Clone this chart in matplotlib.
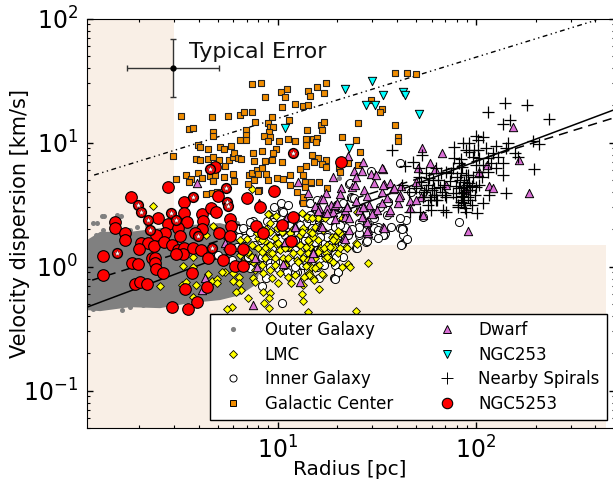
import numpy as np
import matplotlib
matplotlib.use("Agg")
import matplotlib.pyplot as plt
from matplotlib.lines import Line2D

# all points as (log10 radius, log10 dispersion)
outer_upper=[(.04,.214),(.106,.28),(.257,.28),(.408,.31),(.559,.335),(.71,.351),(.811,.31),(.887,.173),(.922,.012)]
outer_lower=[(.887,-.149),(.811,-.23),(.71,-.27),(.559,-.294),(.408,-.335),(.257,-.327),(.106,-.359),(.04,-.351)]
outer_pts=[(.091,.35),(.116,.41),(.192,.415),(.212,.407),(.121,.294),(.166,.27),(.257,.294),(.292,.318),(.343,.335),(.307,.27),
(.071,.351),(.126,.407),(.086,.254),(.071,-.342),(.106,-.31),(.156,-.318),(.217,-.35),(.257,-.327),(.322,-.31),(.393,-.27),
(.444,-.246),(.509,-.23),(.61,-.214),(.695,-.133),(.761,-.109),(.826,-.068),(.862,-.012),(.746,-.165),(.796,.35),(.811,.294),
(.862,.198),(1.31,.713)]

lmc_pts=[(.958,.423),(.993,.407),(1.048,.391),(1.124,.431),(1.149,.399),(1.21,.391),(.963,.351),(.998,.31),(.902,.23),(.937,.206),
(.847,.222),(.872,.173),(.902,.149),(.937,.149),(.988,.23),(1.013,.133),(1.053,.214),(1.114,.254),(1.164,.278),(1.205,.214),
(1.114,.173),(1.164,.157),(1.25,.173),(1.28,.157),(1.305,.109),(1.28,.036),(1.351,.149),(1.215,.149),(1.079,.109),(1.129,.069),
(.988,.069),(.937,.069),(.877,.036),(.922,.012),(.963,-.028),(1.013,-.052),(1.053,-.085),(1.089,-.069),(1.149,-.069),(.877,-.093),
(.973,-.093),(1.003,-.133),(1.068,-.133),(1.129,-.149),(1.159,-.052),(1.179,-.093),(.887,-.125),(1.21,-.181),(1.326,-.004),(1.356,.012),
(.736,-.044),(.776,-.052),(.806,-.085),(.776,-.117),(.806,-.133),(.816,-.189),(.791,-.206),(.852,-.254),(.927,-.206),(.963,-.214),
(.958,-.254),(.932,-.294),(.958,-.335),(.771,-.326),(.746,-.343),(1.124,-.222),(1.129,-.278),(1.154,-.367),(1.028,.069),(.811,.093),
(.811,.214),(.746,.141),(1.457,.028),(1.356,.02),(1.366,-.004),(1.396,-.359),(1.23,-.069),(1.184,-.109),(1.21,.012),(1.245,.109),
(1.346,.157),(1.396,.189),(1.295,.214),(1.21,.133),(1.169,-.004),(.408,-.157),(.575,-.246),(.519,-.149),(.539,-.125),(.59,-.149),
(.65,-.06),(.67,-.117),(.695,-.101),(.695,-.133),(.721,-.044),(.524,.004),(.575,.077),(.575,-.004),(.373,.488),(.872,.625),
(.953,.423),(.675,.326),(.64,.254),(.58,.27),(1.08,.3),(1.03,.28),(.94,.3),(.99,.18),(1.06,.16),(1.1,.05),
(1.19,.07),(1.26,.06),(1.04,.01),(.9,.27),(.85,.1),(.96,.11),(1.16,.2),(1.3,.26),
(.927,.294),(.897,.27),(.963,.278),(1.023,.278),(1.063,.27),(1.129,.31),(1.189,.318),(1.154,.214),(1.179,.238),(1.23,.294),
(1.275,.238),(1.315,.27),(1.003,.189),(1.038,.149),(.963,.173),(.922,.214),(.852,.117),(.922,.117),(.973,.109),(1.053,.069),
(1.104,.036),(1.149,.012),(1.189,-.012),(1.24,.069),(1.038,.012),(.988,.012),(1.114,.117),(1.154,.109),(.887,-.028),(.927,-.052),
(1.315,.149),(.872,.077),(.827,.036),
(1.173,.267),(1.232,.146),(1.265,.159),(1.206,.119),(1.248,.078),(1.282,.038),(1.29,.24),(1.307,.285),(1.349,.151),(1.4,.186),
(1.144,.003),(1.161,-.064),(1.131,-.083),(1.144,.159),(1.206,.388),(1.173,.388),(1.24,.388),(1.324,.388),(1.4,.441),(1.122,.28),
(1.282,.213),(1.156,.051),(1.223,-.062)]

inner_pts=[(1.628,.181),(1.285,-.093),(1.305,-.044),(1.295,.085),(1.21,-.093),(1.396,.149),(1.446,.197),(1.331,.173),(1.618,.834),(1.915,.359),
(1.633,.302),(1.633,.254),(1.734,.399),(1.472,.77),(1.361,.665),(1.572,.318),(1.557,.52),(1.482,.431),(1.537,.254),(1.31,.318),
(1.361,.294),(1.411,.351),(1.245,.399),(1.159,.512),(1.21,.431),(1.27,.27),(1.507,.318),(1.487,.254),(1.411,.254),(1.331,.254),
(1.194,.318),(1.169,.359),(1.371,.56),(1.305,.48),(1.648,.375),(1.709,.633),(1.734,.6),(1.673,.6),(.983,.48),(1.018,.512),
(1.053,.496),(1.023,.447),(.877,.367),(.801,.31),(.832,.294),(.978,.359),(1.068,.335),(1.144,.351),(.947,.367),(1.174,.31),
(1.25,.254),(1.29,.318),(1.341,.318),(.978,.149),(1.053,.157),(1.104,.085),(1.205,.077),(.927,.077),(1.124,.214),(1.25,.133),
(1.29,-.093),(1.099,-.044),(.922,-.157),(1.023,-.294),(1.23,.036),(1.023,.036),(1.154,-.004),(.837,.052),(1.003,-.012),(.963,.028),
(1.073,.036),(1.114,.012),(1.2,.189),(1.154,.254),(.887,.173),(.912,.27),(1.038,.254),(1.104,.27),(1.215,.294),(.862,.278),
(.796,.157),(.771,.052),(.947,.149),(1.089,.133),(1.29,.149),(1.331,.077),(1.29,.012),(.806,.302),(.806,.238),(.701,.093),
(.942,-.093),(1.089,-.052),(1.129,.52),(1.618,.31),
(1.099,.351),(1.225,.399),(1.28,.375),(1.331,.375),(1.003,.294),(.953,.238),(1.073,.197),(1.149,.157),(1.2,.093),(1.129,.012),
(1.048,-.044),(.963,.214),(1.3,.238),(1.189,.028),(1.265,.069),(1.326,.189),(1.356,.254),(1.487,.31),(1.542,.27),(1.467,.375),
(1.628,.31),(1.376,.552),(1.366,.673),
(1.164,.509),(1.198,.536),(1.332,.509),(1.383,.549),(1.416,.468),(1.517,.482),(1.559,.522),(1.618,.388),(1.626,.307),(1.652,.226),
(1.623,.178),(1.534,.253),(1.504,.232),(1.504,.294),(1.45,.205),(1.413,.267),(1.413,.32),(1.374,.307),(1.324,.186),(1.4,.146),
(1.248,.24),(1.215,.24),(1.139,.267),(1.139,.213),(1.122,.307),(1.29,.32),(1.265,.374),(1.181,.186),(1.181,.132),(1.215,.051),
(1.232,.011),(1.198,-.002),(1.131,.051),(1.29,.105),(1.295,.078),(1.307,-.043),(1.29,-.097),(1.257,.173),(1.45,.347),(1.484,.388),
(1.551,.415),(1.316,.334),(1.164,.415),(1.139,.092),
(1.029,.442),(1.155,.388),(1.197,.456),(1.113,.335),(.987,.335),(.861,.361),(.828,.308),(.971,.254),(1.139,.267),(1.189,.2),
(1.088,.214),(1.004,.146),(.971,.146),(.853,.079),(.92,.079),(1.097,.092),(1.139,.052),(1.155,-.029),(.987,.039),(.962,-.002),
(.861,-.015),(.836,.227),(1.038,.012),(1.088,-.002),(1.197,.133),(.912,.214)]

gc_pts=[(.872,1.471),(.917,1.479),(.937,1.366),(1.018,1.407),(1.048,1.431),(1.038,1.366),(1.2,1.447),(1.245,1.479),(1.154,1.415),(1.164,1.374),
(1.235,1.399),(1.023,1.286),(1.089,1.31),(1.129,1.294),(1.154,1.302),(.514,1.213),(.67,1.205),(.751,1.213),(.811,1.221),(.832,1.245),
(.872,1.245),(.973,1.205),(1.058,1.181),(.887,1.165),(.953,1.157),(.963,1.124),(.978,1.124),(.958,1.084),(.932,1.052),(.963,1.044),
(.953,1.012),(1.008,1.012),(1.053,1.028),(1.089,1.012),(1.144,1.028),(1.144,.979),(1.179,1.028),(1.2,1.036),(1.22,1.14),(1.225,1.1),
(1.149,1.1),(.554,1.108),(.575,1.116),(.675,1.084),(.675,1.052),(.842,1.1),(.842,1.06),(.842,1.02),(.811,1.02),(.474,.891),
(.6,.979),(.61,.963),(.65,.947),(.71,.963),(.731,.947),(.766,.971),(.877,.915),(.922,.931),(.993,.947),(.978,.915),
(.59,.866),(.61,.858),(.65,.866),(.675,.883),(.706,.858),(.736,.81),(.756,.858),(.776,.883),(.781,.915),(.801,.875),
(.816,.866),(.882,.85),(.937,.85),(.973,.858),(1.023,.842),(1.174,.899),(1.205,.875),(1.184,.842),(1.245,.858),(1.225,.826),
(1.245,.802),(1.144,.81),(1.114,.786),(.6,.754),(.489,.705),(.539,.738),(.564,.705),(.62,.713),(.554,.681),(.66,.729),
(.685,.738),(.675,.689),(.731,.721),(.776,.746),(.781,.689),(.857,.738),(.872,.754),(.897,.778),(.922,.794),(.902,.746),
(.882,.697),(.942,.746),(.953,.697),(.998,.713),(1.028,.705),(1.063,.738),(1.063,.657),(1.129,.738),(1.139,.681),(1.169,.673),
(1.139,.641),(.907,.617),(.852,.665),(.64,.584),(.67,.592),(.695,.6),(1.593,1.56),(1.653,1.56),(1.698,1.552),(1.472,1.343),
(1.527,1.27),(1.517,1.245),(1.406,1.157),(1.593,1.141),(1.235,1.165),(1.326,1.044),(1.194,1.004),(1.396,1.02),(1.608,1.044),(1.608,1.012),
(1.416,.923),(1.356,.834),(1.406,.818),(1.31,.794),(1.315,.762),(1.25,.633),(1.129,.512),(.902,.609),(1.099,.601),(1.129,.56),
(1.169,.68),(1.21,.68)]

dwarf_pts=[(2.187,1.124),(2.218,.858),(2.268,.592),(1.96,.286),(2.066,.649),(2.087,.633),(1.729,.955),(1.829,.915),(1.769,.834),(1.709,.794),
(1.794,.786),(2.056,.818),(2.016,.762),(1.85,.657),(1.95,.617),(1.356,.891),(1.431,.842),(1.532,.786),(1.386,.77),(1.426,.77),
(1.28,.721),(1.396,.721),(1.472,.746),(1.497,.738),(1.487,.673),(1.376,.641),(1.32,.633),(1.436,.617),(1.537,.665),(1.567,.673),
(1.583,.625),(1.623,.649),(1.527,.6),(1.618,.576),(1.724,.56),(1.608,.512),(1.668,.528),(1.698,.536),(1.396,.528),(1.527,.512),
(1.462,.496),(1.436,.48),(1.668,.471),(1.482,.431),(1.734,.415),(1.351,.488),(1.285,.488),(1.245,.592),(1.315,.584),(1.22,.544),
(1.154,.592),(1.27,.496),(1.21,.447),(1.245,.439),(1.28,.439),(1.356,.399),(1.431,.399),(1.562,.439),(1.613,.56),(1.215,.326),
(1.361,.294),(1.457,.294),(1.532,.318),(1.336,.23),(1.169,.069),(1.179,.117),(.595,.673),(1.104,.681),(.907,.512),(1.23,.544),
(1.21,.471),(1.29,.496),(1.346,.431),(1.089,.326),(1.22,.326),(1.038,.197),(.736,.189),(.887,.069),(1.028,.02),(.897,-.004),
(1.114,-.125),(.877,-.31),(.635,-.093),(.62,-.189),(1.527,.794),(1.532,.657),(1.588,.633),(1.698,.681),(1.567,.455),(1.451,.359),
(1.341,.399),(1.457,.27),(1.39,.66),(1.3,.51),(1.34,.46),(1.41,.46),(1.25,.47),(1.5,.46),(1.55,.55),(1.19,.49),(1.45,.57),(1.29,.38),
(1.223,.32),(1.341,.226),(1.178,.119),(1.45,.285),(1.537,.315),(1.358,.393),(1.206,.447),(1.248,.436),(1.349,.482),(1.433,.482),
(1.425,.401),(1.475,.428),(1.046,.402),(1.088,.321),(1.038,.2),(1.177,.106)]

ngc253_pts=[(1.038,1.116),(1.341,1.431),(1.477,1.495),(1.532,1.382),(1.446,1.302),(1.492,1.302),(1.633,1.407),(1.643,1.382),(1.714,1.229),(1.361,.955)]

spiral_pts=[(2.147,1.318),(2.258,1.302),(2.061,1.245),(2.369,1.189),(2.137,1.149),(2.172,1.181),(1.578,.939),(1.729,.899),(1.683,.842),(1.643,.81),
(2.001,1.052),(2.036,1.044),(2.011,1.02),(1.89,.963),(1.935,.995),(1.966,.995),(2.102,.971),(2.162,.995),(2.152,.955),(2.288,1.012),
(2.318,.987),(2.197,.915),(2.212,.883),(2.293,.786),(2.137,.738),(2.102,.794),(2.152,.592),(2.036,.512),(2.006,.431),(1.91,.48),
(2.066,.576),(1.95,.939),(1.966,.923),(2.011,.939),(2.051,.955),(2.087,.915),(1.986,.883),(2.016,.875),(2.061,.875),(2.112,.883),
(2.137,.834),(2.076,.834),(2.036,.818),(2.001,.818),(1.925,.866),(1.89,.875),(1.915,.834),(1.885,.794),(1.85,.762),(1.875,.754),
(1.799,.794),(1.824,.754),(1.749,.754),(1.714,.721),(1.724,.681),(1.764,.713),(1.809,.697),(1.925,.754),(1.95,.738),(1.986,.721),
(2.016,.762),(2.061,.762),(1.94,.681),(1.966,.673),(1.935,.641),(1.95,.617),(1.925,.592),(1.96,.56),(1.935,.536),(2.001,.641),
(2.016,.657),(1.94,.512),(1.885,.592),(1.85,.56),(1.84,.657),(1.789,.633),(1.789,.576),(1.774,.536),(1.799,.536),(1.759,.496),
(1.774,.455),(1.835,.455),(1.85,.439),(1.734,.56),(1.749,.617),(1.698,.633),(1.663,.6),(1.714,.794),(1.845,.576),(1.769,.56),
(1.804,.536),(1.668,.439),(1.719,.439),(1.779,.617),(1.819,.641),(1.628,.657),(1.784,.697),(1.93,.568),(1.971,.617),(1.91,.496),
(1.981,.496),(1.95,.439),(1.9,.649),(1.996,.576),(1.92,.697),(1.905,.72),(1.94,.6),(1.955,.66),(1.915,.63),(1.97,.54),
(1.925,.52),(1.945,.47),(1.9,.56),(1.98,.65),(1.96,.74),(1.87,.69),(1.83,.6),(1.76,.66),(1.74,.6),(1.8,.58),
(2.03,.72),(1.93,.8),(1.99,.94)]

ngc5253_pts=[(.449,.641),(.262,.56),(.529,.52),(.7,.568),(.62,.423),(.665,.471),(.69,.439),(.529,.431),(.398,.391),(.181,.359),
(.181,.31),(.449,.343),(.544,.359),(.625,.367),(.761,.383),(.766,.326),(.232,.27),(.232,.214),(.433,.27),(.388,.254),
(.499,.31),(.62,.302),(.509,.246),(.585,.27),(.706,.27),(.761,.246),(.312,.189),(.348,.189),(.378,.165),(.428,.197),
(.469,.173),(.499,.133),(.529,.149),(.575,.149),(.615,.133),(.524,.101),(.489,.101),(.121,.085),(.302,.141),(.267,.028),
(.297,.02),(.368,.069),(.383,.069),(.383,.028),(.388,-.02),(.423,-.052),(.121,-.069),(.282,-.141),(.307,-.125),(.343,-.141),
(.57,-.052),(.534,-.181),(.645,-.165),(.65,.069),(.726,.052),(.761,.141),(.786,.004),(.827,.004),(.469,-.326),(.595,-.286),
(.549,-.343),(.847,.552),(.983,.609),(.912,.48),(.685,.802),(1.078,.399),(.892,.326),(1.023,.335),(.927,.27),(1.068,.206),
(.827,.141),(1.32,.842)]
ngc5253_ringed=[(1.079,.915),(.66,.786),(.741,.633),(.575,.56),(.746,.52),(.751,.488),(.297,.496),(.312,.439),(.348,.375),(.464,.431),
(.489,.375),(.358,.294),(.6,.246),(.192,.109),(.67,.149)]

fit_solid=[(.04,-.327),(2.691,1.261)]
fit_dashed=[(.066,-.109),(2.691,1.197)]
fit_upper=[(.076,.738),(2.606,1.987)]

err_x,err_y=2.98,40.0
err_xr=[1.75,5.08]
err_yr=[23.2,68.4]

def xy(pts):
    a=np.array(pts)
    return 10**a[:,0],10**a[:,1]

plt.rcParams["font.family"]="DejaVu Sans"
plt.rcParams["mathtext.default"]="regular"

fig=plt.figure(figsize=(6.13,4.8),dpi=100)
ax=fig.add_axes([86.5/613,1-428/480,(615-86.5)/613,(428-18.5)/480])
ax.set_xscale("log")
ax.set_yscale("log")
ax.set_xlim(1.09,502)
ax.set_ylim(0.05,100)

shade="#f9efe6"
ax.axvspan(1.09,3,color=shade,lw=0,zorder=0)
ax.fill_between([3,450],0.05,1.5,color=shade,lw=0,zorder=0)

# outer galaxy is too dense to pick single points, so envelope plus fringe
ox,oy=xy(outer_upper+outer_lower)
ax.fill(ox,oy,color="#808080",lw=0,zorder=1)
ax.scatter(*xy(outer_pts),s=13,c="#808080",lw=0,zorder=1)

ax.plot(*xy(fit_solid),"-",color="k",lw=1.1,zorder=2)
ax.plot(*xy(fit_dashed),color="k",lw=1.1,dashes=(6,4),zorder=2)
ax.plot(*xy(fit_upper),color="k",lw=1,dashes=(3.5,2.5,1,2.5,1,2.5),zorder=2)

ax.scatter(*xy(inner_pts),s=34,c="white",edgecolors="k",lw=.7,zorder=3)
ax.scatter(*xy(lmc_pts),s=16,marker="D",c="yellow",edgecolors="k",lw=.6,zorder=4)
ax.scatter(*xy(gc_pts),s=15,marker="s",c="#f08c00",edgecolors="#222222",lw=.8,zorder=5)
ax.scatter(*xy(dwarf_pts),s=36,marker="^",c="orchid",edgecolors="k",lw=.7,zorder=6)
ax.scatter(*xy(ngc253_pts),s=36,marker="v",c="cyan",edgecolors="k",lw=.7,zorder=6)
ax.scatter(*xy(spiral_pts),s=70,marker="+",c="k",lw=.9,zorder=7)
ax.scatter(*xy(ngc5253_pts),s=70,c="red",edgecolors="k",lw=.8,zorder=8)
ax.scatter(*xy(ngc5253_ringed),s=50,c="red",edgecolors="k",lw=1,zorder=8)
ax.scatter(*xy(ngc5253_ringed),s=26,marker="*",c="white",edgecolors="#550000",lw=.3,zorder=9)

ax.errorbar(err_x,err_y,xerr=[[err_x-err_xr[0]],[err_xr[1]-err_x]],yerr=[[err_y-err_yr[0]],[err_yr[1]-err_y]],
            fmt="o",color="#333333",mfc="k",mec="k",ms=3.5,lw=1,capsize=2.5,zorder=10)
ax.text(3.58,53.6,"Typical Error",fontsize=16,va="center",ha="left",color="#111111")

ax.tick_params(which="major",direction="in",length=4.5,width=1,top=True,right=True,labelsize=17,pad=6)
ax.tick_params(which="minor",direction="in",length=2.5,width=.8,top=True,right=True)
ax.set_xlabel("Radius [pc]",fontsize=14.5)
ax.xaxis.set_label_coords((350-86.5)/528.5,(428-460)/409.5)
ax.set_ylabel("Velocity dispersion [km/s]",fontsize=15)
ax.yaxis.set_label_coords((30-86.5)/528.5,(428-224)/409.5)

handles=[Line2D([],[],ls="",marker="o",ms=3.7,mfc="#808080",mec="none",label="Outer Galaxy"),
         Line2D([],[],ls="",marker="D",ms=3.7,mfc="yellow",mec="k",mew=.6,label="LMC"),
         Line2D([],[],ls="",marker="o",ms=5.1,mfc="white",mec="k",mew=.7,label="Inner Galaxy"),
         Line2D([],[],ls="",marker="s",ms=3.8,mfc="#f08c00",mec="k",mew=.7,label="Galactic Center"),
         Line2D([],[],ls="",marker="^",ms=5.6,mfc="orchid",mec="k",mew=.7,label="Dwarf"),
         Line2D([],[],ls="",marker="v",ms=5.6,mfc="cyan",mec="k",mew=.7,label="NGC253"),
         Line2D([],[],ls="",marker="+",ms=8.4,color="k",mew=.7,label="Nearby Spirals"),
         Line2D([],[],ls="",marker="o",ms=7.5,mfc="red",mec="k",mew=.8,label="NGC5253")]
leg=ax.legend(handles=handles,ncol=2,loc="lower right",bbox_to_anchor=(606.5/613,(480-419.5)/480),bbox_transform=fig.transFigure,
              fontsize=12,fancybox=False,framealpha=1,edgecolor="k",columnspacing=2.22,labelspacing=.4,
              handletextpad=.9,borderpad=.4,borderaxespad=0)
leg.get_frame().set_linewidth(1)
leg.set_zorder(20)

fig.savefig("out.png",dpi=100)
